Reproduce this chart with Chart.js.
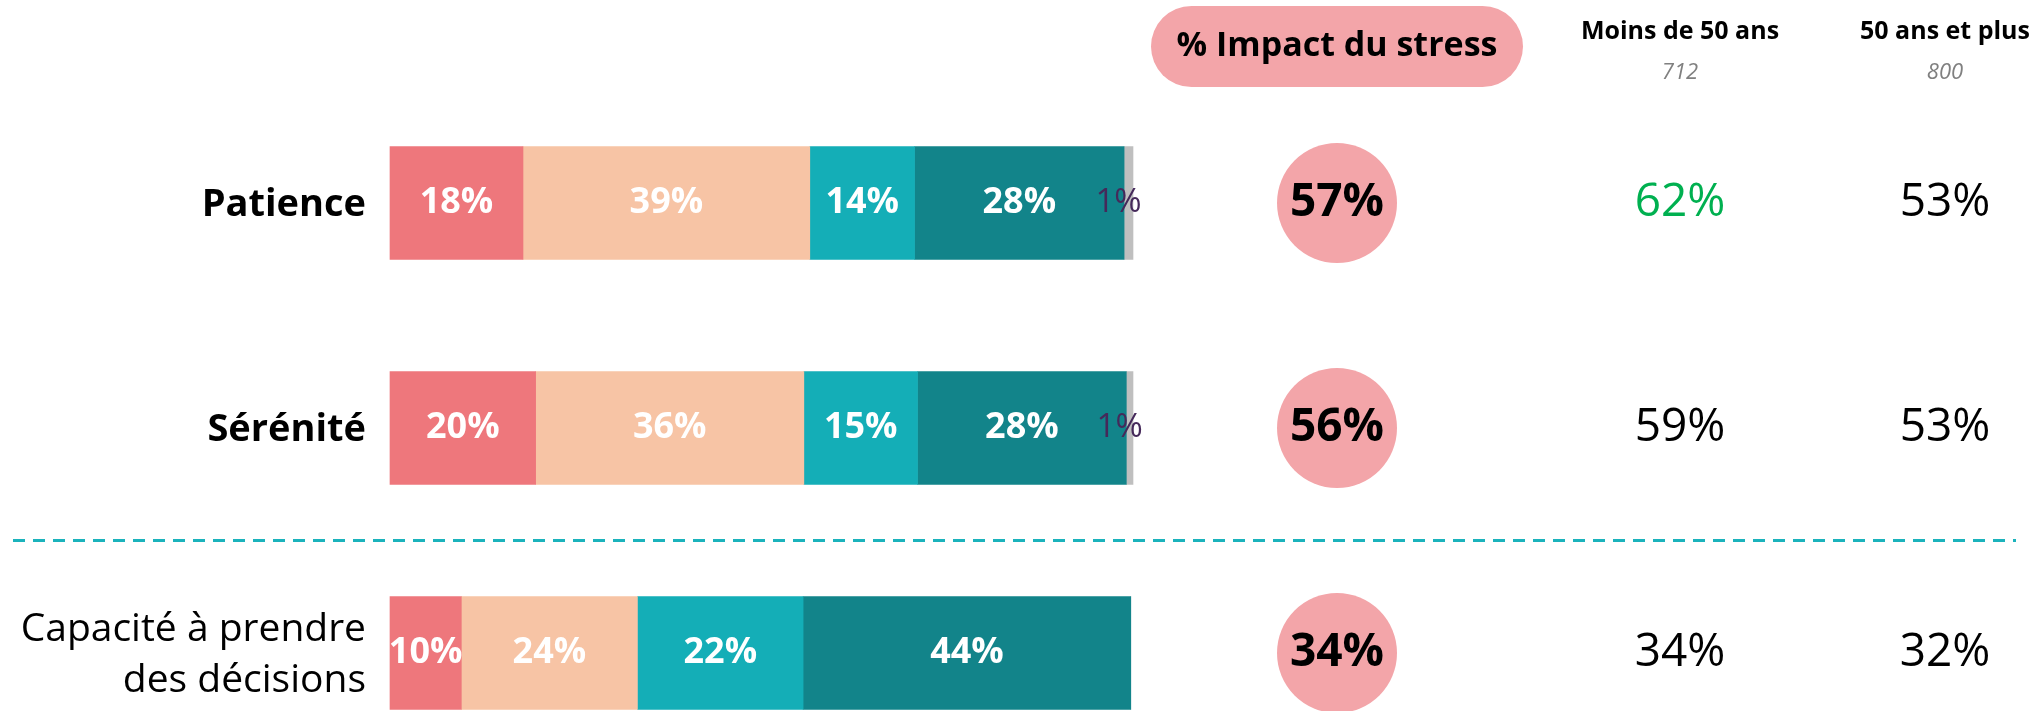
<!DOCTYPE html>
<html>
<head>
<meta charset="utf-8">
<script src="https://cdn.jsdelivr.net/npm/chart.js@4/dist/chart.umd.min.js"></script>
<style>
html,body{margin:0;padding:0;background:#ffffff;overflow:hidden}
#wrap{width:2041px;height:711px;position:relative}
</style>
</head>
<body>
<div id="wrap"><canvas id="c" width="2041" height="711"></canvas></div>
<script>
// ---- data ----
const categories = [["Patience"], ["Sérénité"], ["Capacité à prendre", "des décisions"]];
const boldCategory = [true, true, false];
const seriesNames = ["Beaucoup", "Assez", "Peu", "Pas du tout", "NSP"];
const series1 = [17.9, 19.6, 9.6];
const series2 = [38.6, 36.1, 23.7];
const series3 = [14.1, 15.3, 22.3];
const series4 = [28.2, 28.1, 44.1];
const series5 = [1.2, 0.9, 0];
const impactTitle = "% Impact du stress";
const impactValues = [57, 56, 34];
const columnHeaders = ["Moins de 50 ans", "50 ans et plus"];
const columnBases = ["712", "800"];
const under50Values = [62, 59, 34];
const over50Values = [53, 53, 32];
const under50Higher = [true, false, false];
const over50Higher = [false, false, false];

// ---- styles ----
const FONT = "'Open Sans', 'Noto Sans', 'DejaVu Sans', sans-serif";
const segColors = ["#EE777C", "#F7C4A5", "#14AEB7", "#12848A", "#BFBFBF"];
const seriesArrays = [series1, series2, series3, series4, series5];

const overlay = {
  id: 'overlay',
  afterDatasetsDraw(chart) {
    const ctx = chart.ctx;
    const ys = chart.scales.y;
    const area = chart.chartArea;
    ctx.save();
    // segment labels
    chart.data.datasets.forEach((ds, di) => {
      const meta = chart.getDatasetMeta(di);
      meta.data.forEach((bar, i) => {
        const v = ds.data[i];
        if (!v) return;
        const txt = Math.round(v) + '%';
        const cx = (bar.x + bar.base) / 2;
        ctx.textAlign = 'center';
        ctx.textBaseline = 'middle';
        if (di === 4) {
          ctx.fillStyle = '#45295A';
          ctx.font = `400 33px ${FONT}`;
          ctx.fillText(txt, cx - 10, bar.y);
        } else {
          ctx.fillStyle = '#FFFFFF';
          ctx.font = `700 36px ${FONT}`;
          ctx.fillText(txt, cx, bar.y);
        }
      });
    });
    // row labels
    categories.forEach((lines, i) => {
      const y = ys.getPixelForValue(i);
      ctx.fillStyle = '#000';
      ctx.textAlign = 'right';
      ctx.textBaseline = 'middle';
      ctx.font = `${boldCategory[i] ? 700 : 400} ${boldCategory[i] ? 38 : 39}px ${FONT}`;
      const lh = 51;
      const y0 = y - (lines.length - 1) * lh / 2 + 2;
      lines.forEach((t, k) => ctx.fillText(t, area.left - 24, y0 + k * lh));
    });
    // dashed separator between row 2 and 3
    const sepY = ys.getPixelForValue(1.5);
    ctx.strokeStyle = '#1BB3BC';
    ctx.lineWidth = 3;
    ctx.setLineDash([12, 8]);
    ctx.beginPath();
    ctx.moveTo(13, sepY);
    ctx.lineTo(2016, sepY);
    ctx.stroke();
    ctx.setLineDash([]);
    // header pill
    const pillCx = 1337, pillCy = 46.5, pillW = 372, pillH = 81;
    ctx.fillStyle = '#F3A5A9';
    ctx.beginPath();
    ctx.roundRect(pillCx - pillW / 2, pillCy - pillH / 2, pillW, pillH, pillH / 2);
    ctx.fill();
    ctx.fillStyle = '#000';
    ctx.textAlign = 'center';
    ctx.textBaseline = 'middle';
    ctx.font = `700 34px ${FONT}`;
    ctx.fillText(impactTitle, pillCx, pillCy);
    // column headers
    const colX = [1680, 1945];
    columnHeaders.forEach((h, k) => {
      ctx.fillStyle = '#000';
      ctx.font = `700 25px ${FONT}`;
      ctx.fillText(h, colX[k], 32);
      ctx.fillStyle = '#808080';
      ctx.font = `italic 400 22px ${FONT}`;
      ctx.fillText(columnBases[k], colX[k], 73);
    });
    // circles + values
    impactValues.forEach((v, i) => {
      const y = ys.getPixelForValue(i);
      ctx.fillStyle = '#F3A5A9';
      ctx.beginPath();
      ctx.arc(pillCx, y, 60, 0, Math.PI * 2);
      ctx.fill();
      ctx.fillStyle = '#000';
      ctx.font = `700 46px ${FONT}`;
      ctx.fillText(v + '%', pillCx, y);
      ctx.font = `400 46px ${FONT}`;
      ctx.fillStyle = under50Higher[i] ? '#00B050' : '#000';
      ctx.fillText(under50Values[i] + '%', colX[0], y);
      ctx.fillStyle = over50Higher[i] ? '#00B050' : '#000';
      ctx.fillText(over50Values[i] + '%', colX[1], y);
    });
    ctx.restore();
  }
};

function draw() {
  new Chart(document.getElementById('c'), {
    type: 'bar',
    data: {
      labels: categories.map(l => l.join(' ')),
      datasets: seriesArrays.map((arr, k) => ({
        label: seriesNames[k],
        data: arr,
        backgroundColor: segColors[k],
        borderWidth: 0,
        barThickness: 113,
        clip: false
      }))
    },
    options: {
      indexAxis: 'y',
      responsive: false,
      animation: false,
      devicePixelRatio: 1,
      layout: { padding: { left: 390, right: 908, top: 203, bottom: 58 } },
      scales: {
        x: { stacked: true, min: 0, max: 100, display: false },
        y: { stacked: true, offset: false, display: false }
      },
      plugins: { legend: { display: false }, tooltip: { enabled: false } }
    },
    plugins: [overlay]
  });
}
if (document.fonts && document.fonts.load) {
  Promise.all([
    document.fonts.load(`700 38px 'Open Sans'`),
    document.fonts.load(`400 38px 'Open Sans'`),
    document.fonts.load(`italic 400 21px 'Open Sans'`)
  ]).then(draw, draw);
} else { draw(); }
</script>
</body>
</html>
